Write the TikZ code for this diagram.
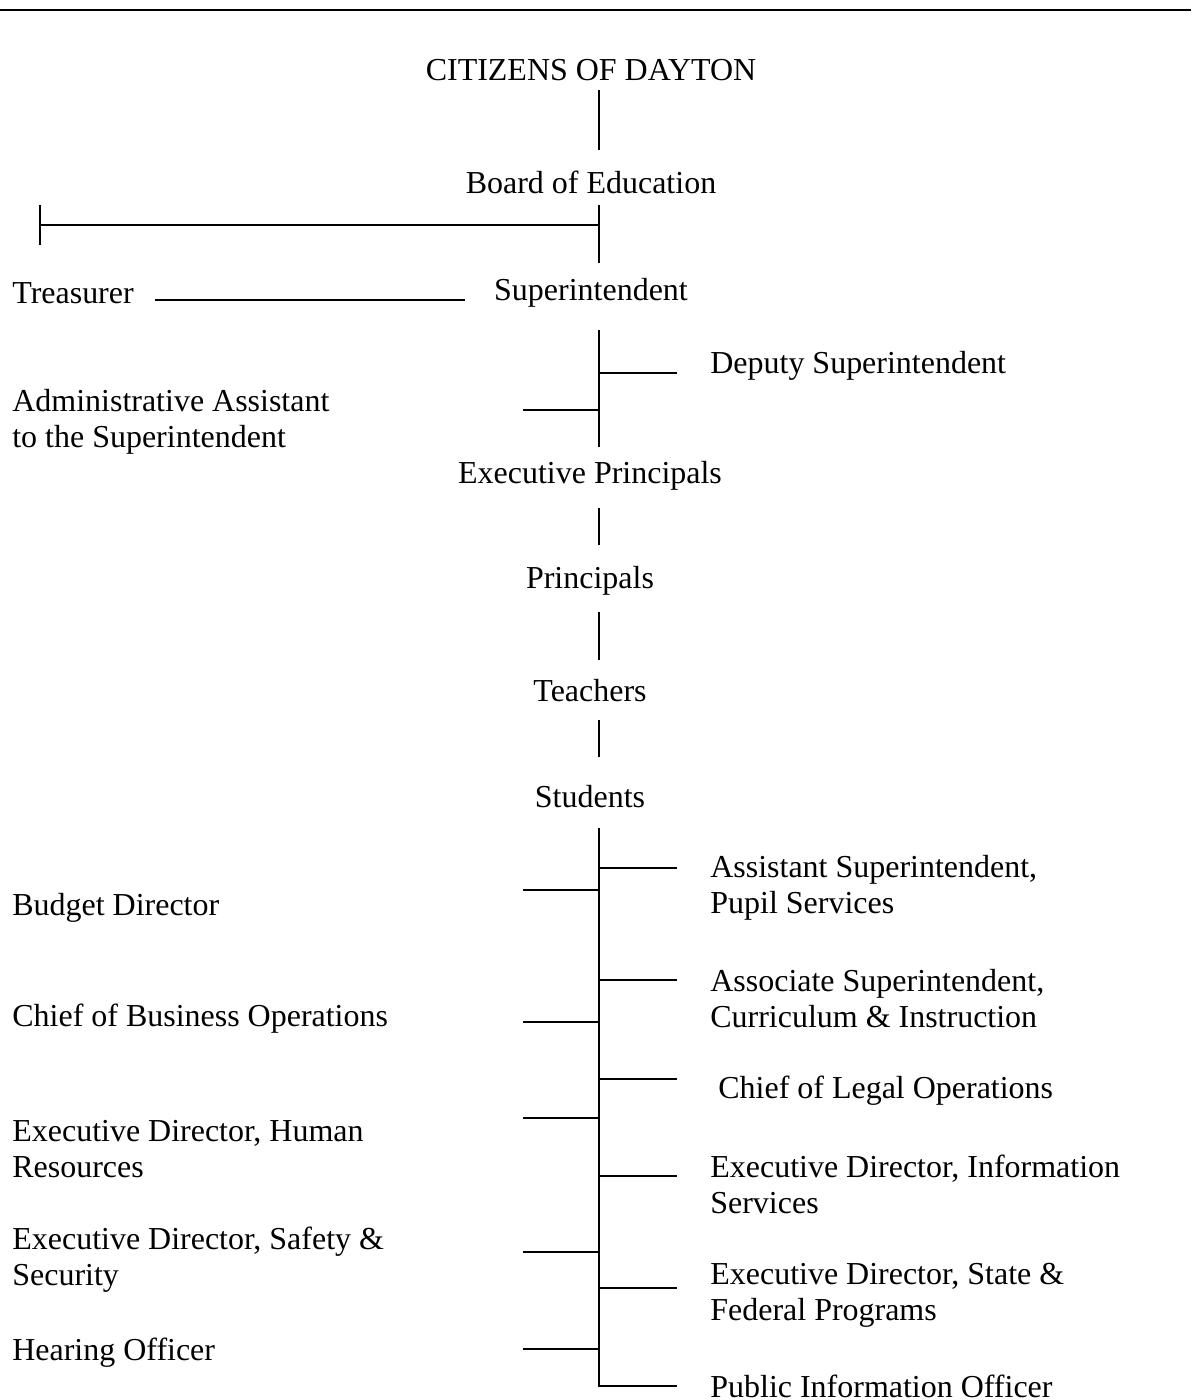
\documentclass[tikz,border=0pt]{standalone}
\usepackage{fontspec}
\setmainfont{Liberation Serif}
\usetikzlibrary{calc}

\begin{document}
\begin{tikzpicture}[x=0.02cm,y=-0.02cm,
  title/.style = {inner sep=0pt,anchor=center},
  post/.style  = {inner sep=0pt,anchor=west,align=left},
  link/.style  = {line width=1pt}]
 \fontsize{18.2}{20.5}\selectfont
 \useasboundingbox (0,0) rectangle (1191,1400);
 \draw[line width=1.7pt] (0,10) -- (1191,10);

 \coordinate (spine) at (599,0);
 \coordinate (lft) at (523,0);
 \coordinate (rgt) at (677,0);
 \coordinate (tick) at (40,225);

 % main line
 \node[title] (citizens)   at (591,70)  {CITIZENS OF DAYTON};
 \node[title] (board)      at (591,182) {Board of Education};
 \node[title] (super)      at (591,293) {Superintendent};
 \node[title] (execp)      at (590,476) {Executive Principals};
 \node[title] (principals) at (590,581) {Principals};
 \node[title] (teachers)   at (590,691) {Teachers};
 \node[title] (students)   at (590,797) {Students};

 % staff
 \node[post] (treasurer) at (12,293)  {Treasurer};
 \node[post] (deputy)    at (710,366) {Deputy Superintendent};
 \node[post] (admin)     at (12,422)  {Administrative Assistant\\
                    to the Superintendent};

 \node[post] (budget)  at (12,908)  {Budget Director};
 \node[post] (cbo)     at (12,1019) {Chief of Business Operations};
 \node[post] (hr)      at (12,1149) {Executive Director, Human\\
                    Resources};
 \node[post] (safety)  at (12,1260) {Executive Director, Safety \&\\
                    Security};
 \node[post] (hearing) at (12,1353) {Hearing Officer};

 \node[post] (asst)   at (710,888)  {Assistant Superintendent,\\
                    Pupil Services};
 \node[post] (assoc)  at (710,999)  {Associate Superintendent,\\
                    Curriculum \& Instruction};
 \node[post] (legal)  at (718,1091) {Chief of Legal Operations};
 \node[post] (info)   at (710,1184) {Executive Director, Information\\
                    Services};
 \node[post] (state)  at (710,1295) {Executive Director, State \&\\
                    Federal Programs};
 \node[post] (pio)    at (710,1386) {Public Information Officer};

 \begin{scope}[link]
  \draw ($(citizens -| spine)+(0,20)$) -- ($(board -| spine)+(0,-32)$);
  \draw ($(board -| spine)+(0,23)$) -- ($(super -| spine)+(0,-30)$);
  \draw (tick) -- (tick -| spine);
  \draw ($(tick)+(0,-20)$) -- ($(tick)+(0,20)$);
  \draw ($(treasurer.east)+(21,7)$) -- ($(super.west)+(-29,7)$);
  \draw ($(super -| spine)+(0,37)$) -- ($(execp -| spine)+(0,-29)$);
  \draw ($(spine |- deputy)+(0,7)$) -- ($(rgt |- deputy)+(0,7)$);
  \draw ($(spine |- admin)+(0,-12)$) -- ($(lft |- admin)+(0,-12)$);
  \draw ($(execp -| spine)+(0,32)$) -- ($(principals -| spine)+(0,-36)$);
  \draw ($(principals -| spine)+(0,31)$) -- ($(teachers -| spine)+(0,-31)$);
  \draw ($(teachers -| spine)+(0,29)$) -- ($(students -| spine)+(0,-40)$);
  \draw ($(students -| spine)+(0,31)$) |- (rgt |- pio);
  % right side
  \draw ($(spine |- asst)+(0,-20)$)  -- ($(rgt |- asst)+(0,-20)$);
  \draw ($(spine |- assoc)+(0,-19)$) -- ($(rgt |- assoc)+(0,-19)$);
  \draw ($(spine |- legal)+(0,-12)$) -- ($(rgt |- legal)+(0,-12)$);
  \draw ($(spine |- info)+(0,-8)$)   -- ($(rgt |- info)+(0,-8)$);
  \draw ($(spine |- state)+(0,-7)$)  -- ($(rgt |- state)+(0,-7)$);
  % left side
  \draw ($(spine |- budget)+(0,-18)$)  -- ($(lft |- budget)+(0,-18)$);
  \draw ($(spine |- cbo)+(0,3)$)       -- ($(lft |- cbo)+(0,3)$);
  \draw ($(spine |- hr)+(0,-31)$)      -- ($(lft |- hr)+(0,-31)$);
  \draw ($(spine |- safety)+(0,-8)$)   -- ($(lft |- safety)+(0,-8)$);
  \draw ($(spine |- hearing)+(0,-4)$)  -- ($(lft |- hearing)+(0,-4)$);
 \end{scope}
\end{tikzpicture}
\end{document}
